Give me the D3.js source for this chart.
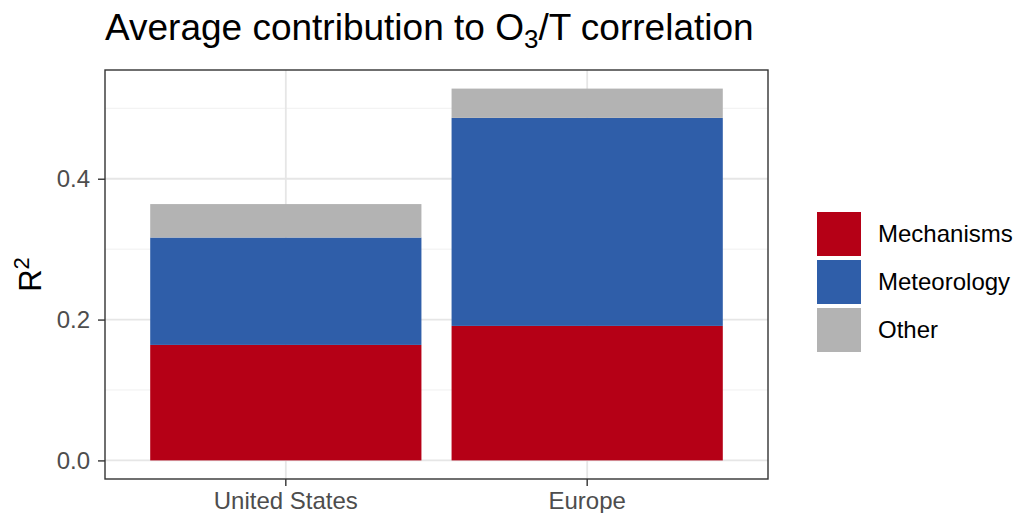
<!DOCTYPE html>
<html>
<head>
<meta charset="utf-8">
<script src="https://cdn.jsdelivr.net/npm/d3@7"></script>
<style>
  body { margin: 0; background: #fff; }
  text { font-family: "Liberation Sans", Arial, sans-serif; }
</style>
</head>
<body>
<svg id="chart" width="1015" height="513"></svg>
<script>

var regions = ["United States", "Europe"];
var sources = ["Mechanisms", "Meteorology", "Other"];
var mechanisms = [0.164, 0.191];
var meteorology = [0.1525, 0.2954];
var other = [0.0475, 0.0416];
var yTicks = [0.0, 0.2, 0.4];
var yMinorTicks = [0.1, 0.3, 0.5];

var colors = ["#b50016", "#2f5ea9", "#b3b3b3"];

var svg = d3.select("#chart");

var panel = {left: 105, right: 768, top: 70, bottom: 479};

// stack the three contributions per region
var rows = regions.map(function(r, i) {
    return {region: r, Mechanisms: mechanisms[i], Meteorology: meteorology[i], Other: other[i]};
});
var stacked = d3.stack().keys(sources)(rows);

var maxTotal = d3.max(rows, function(d) { return d.Mechanisms + d.Meteorology + d.Other; });
var pad = maxTotal * 0.05;

var y = d3.scaleLinear()
    .domain([-pad, maxTotal + pad])
    .range([panel.bottom, panel.top]);

var x = d3.scaleBand()
    .domain(regions)
    .range([panel.left, panel.right])
    .paddingInner(0.1)
    .paddingOuter(0.15);

var color = d3.scaleOrdinal().domain(sources).range(colors);

// grid lines
svg.append("g")
    .selectAll("line")
    .data(yMinorTicks)
    .enter()
    .append("line")
    .attr("x1", panel.left).attr("x2", panel.right)
    .attr("y1", function(d) { return y(d); })
    .attr("y2", function(d) { return y(d); })
    .attr("stroke", "#f0f0f0")
    .attr("stroke-width", 1);

svg.append("g")
    .selectAll("line")
    .data(yTicks)
    .enter()
    .append("line")
    .attr("x1", panel.left).attr("x2", panel.right)
    .attr("y1", function(d) { return y(d); })
    .attr("y2", function(d) { return y(d); })
    .attr("stroke", "#e6e6e6")
    .attr("stroke-width", 1.8);

svg.append("g")
    .selectAll("line")
    .data(regions)
    .enter()
    .append("line")
    .attr("y1", panel.top).attr("y2", panel.bottom)
    .attr("x1", function(d) { return x(d) + x.bandwidth() / 2; })
    .attr("x2", function(d) { return x(d) + x.bandwidth() / 2; })
    .attr("stroke", "#e6e6e6")
    .attr("stroke-width", 1.8);

// bars
svg.append("g")
    .selectAll("g")
    .data(stacked)
    .enter()
    .append("g")
    .attr("fill", function(d) { return color(d.key); })
    .selectAll("rect")
    .data(function(d) { return d; })
    .enter()
    .append("rect")
    .attr("x", function(d) { return x(d.data.region); })
    .attr("width", x.bandwidth())
    .attr("y", function(d) { return y(d[1]); })
    .attr("height", function(d) { return y(d[0]) - y(d[1]); });

// panel border
svg.append("rect")
    .attr("x", panel.left).attr("y", panel.top)
    .attr("width", panel.right - panel.left)
    .attr("height", panel.bottom - panel.top)
    .attr("fill", "none")
    .attr("stroke", "#333")
    .attr("stroke-width", 1.4);

// axes
var yAxis = svg.append("g")
    .attr("transform", "translate(" + panel.left + ",0)")
    .call(d3.axisLeft(y).tickValues(yTicks).tickFormat(d3.format(".1f")).tickSizeInner(7).tickSizeOuter(0).tickPadding(8));

var xAxis = svg.append("g")
    .attr("transform", "translate(0," + panel.bottom + ")")
    .call(d3.axisBottom(x).tickSizeInner(7).tickSizeOuter(0).tickPadding(6));

[yAxis, xAxis].forEach(function(ax) {
    ax.select(".domain").remove();
    ax.selectAll(".tick line").attr("stroke", "#333").attr("stroke-width", 1.4);
    ax.selectAll(".tick text")
        .attr("fill", "#4d4d4d")
        .style("font-size", "24px")
        .style("font-family", "'Liberation Sans', Arial, sans-serif");
});

// title
var title = svg.append("text")
    .attr("x", panel.left)
    .attr("y", 40)
    .style("font-size", "37px")
    .attr("fill", "#000");
title.append("tspan").text("Average contribution to O");
title.append("tspan").attr("dy", 8).style("font-size", "26px").text("3");
title.append("tspan").attr("dy", -8).text("/T correlation");

// y axis title
var yTitle = svg.append("text")
    .attr("transform", "translate(41," + ((panel.top + panel.bottom) / 2) + ") rotate(-90)")
    .attr("text-anchor", "middle")
    .style("font-size", "31px")
    .attr("fill", "#000");
yTitle.append("tspan").text("R");
yTitle.append("tspan").attr("dy", -12).style("font-size", "22px").text("2");

// legend
var legend = svg.append("g")
    .attr("transform", "translate(817,212)");

var item = legend.selectAll("g")
    .data(sources)
    .enter()
    .append("g")
    .attr("transform", function(d, i) { return "translate(0," + (i * 48) + ")"; });

item.append("rect")
    .attr("width", 44)
    .attr("height", 44)
    .attr("fill", function(d) { return color(d); });

item.append("text")
    .attr("x", 61)
    .attr("y", 22)
    .attr("dy", "0.35em")
    .style("font-size", "24px")
    .attr("fill", "#000")
    .text(function(d) { return d; });

</script>
</body>
</html>
